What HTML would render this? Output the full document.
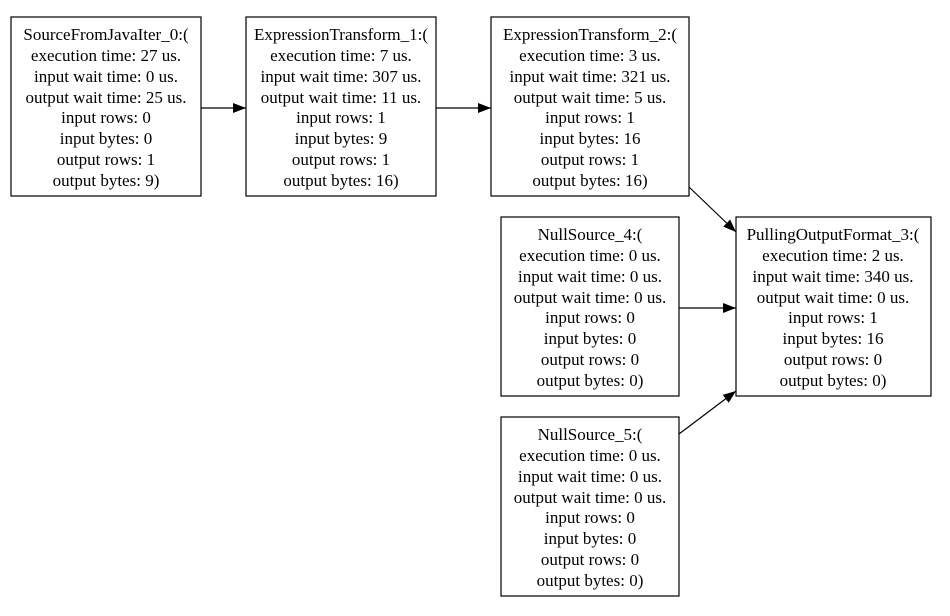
<!DOCTYPE html>
<html><head><meta charset="utf-8"><style>
html,body{margin:0;padding:0;background:#fff;width:950px;height:616px;overflow:hidden}
text{font-family:"Liberation Serif",serif;font-size:17px;fill:#000}
</style></head><body>
<svg width="950" height="616" viewBox="0 0 950 616" xmlns="http://www.w3.org/2000/svg">
<defs><marker id="a" markerWidth="13" markerHeight="10" refX="13" refY="5" orient="auto" markerUnits="userSpaceOnUse"><path d="M0,0 L13,5 L0,10 z" fill="#000"/></marker></defs>
<g fill="none" stroke="#000" stroke-width="1.2">
<rect x="11" y="17" width="190" height="179"/>
<rect x="246" y="17" width="190" height="179"/>
<rect x="491" y="17" width="198" height="179"/>
<rect x="501" y="217" width="178" height="179"/>
<rect x="501" y="417" width="178" height="179"/>
<rect x="736" y="217" width="195" height="179"/>
<line x1="201" y1="108" x2="246" y2="108" marker-end="url(#a)"/>
<line x1="436" y1="108" x2="491" y2="108" marker-end="url(#a)"/>
<line x1="689" y1="187" x2="736" y2="232" marker-end="url(#a)"/>
<line x1="679" y1="308" x2="736" y2="308" marker-end="url(#a)"/>
<line x1="679" y1="434" x2="736" y2="391" marker-end="url(#a)"/>
</g>
<g text-anchor="middle">
<text x="106" y="40">SourceFromJavaIter_0:(</text><text x="106" y="61">execution time: 27 us.</text><text x="106" y="82">input wait time: 0 us.</text><text x="106" y="103">output wait time: 25 us.</text><text x="106" y="123">input rows: 0</text><text x="106" y="144">input bytes: 0</text><text x="106" y="165">output rows: 1</text><text x="106" y="186">output bytes: 9)</text>
<text x="341" y="40">ExpressionTransform_1:(</text><text x="341" y="61">execution time: 7 us.</text><text x="341" y="82">input wait time: 307 us.</text><text x="341" y="103">output wait time: 11 us.</text><text x="341" y="123">input rows: 1</text><text x="341" y="144">input bytes: 9</text><text x="341" y="165">output rows: 1</text><text x="341" y="186">output bytes: 16)</text>
<text x="590" y="40">ExpressionTransform_2:(</text><text x="590" y="61">execution time: 3 us.</text><text x="590" y="82">input wait time: 321 us.</text><text x="590" y="103">output wait time: 5 us.</text><text x="590" y="123">input rows: 1</text><text x="590" y="144">input bytes: 16</text><text x="590" y="165">output rows: 1</text><text x="590" y="186">output bytes: 16)</text>
<text x="590" y="240">NullSource_4:(</text><text x="590" y="261">execution time: 0 us.</text><text x="590" y="282">input wait time: 0 us.</text><text x="590" y="303">output wait time: 0 us.</text><text x="590" y="323">input rows: 0</text><text x="590" y="344">input bytes: 0</text><text x="590" y="365">output rows: 0</text><text x="590" y="386">output bytes: 0)</text>
<text x="590" y="440">NullSource_5:(</text><text x="590" y="461">execution time: 0 us.</text><text x="590" y="482">input wait time: 0 us.</text><text x="590" y="503">output wait time: 0 us.</text><text x="590" y="523">input rows: 0</text><text x="590" y="544">input bytes: 0</text><text x="590" y="565">output rows: 0</text><text x="590" y="586">output bytes: 0)</text>
<text x="833" y="240">PullingOutputFormat_3:(</text><text x="833" y="261">execution time: 2 us.</text><text x="833" y="282">input wait time: 340 us.</text><text x="833" y="303">output wait time: 0 us.</text><text x="833" y="323">input rows: 1</text><text x="833" y="344">input bytes: 16</text><text x="833" y="365">output rows: 0</text><text x="833" y="386">output bytes: 0)</text>
</g>
</svg>
</body></html>
